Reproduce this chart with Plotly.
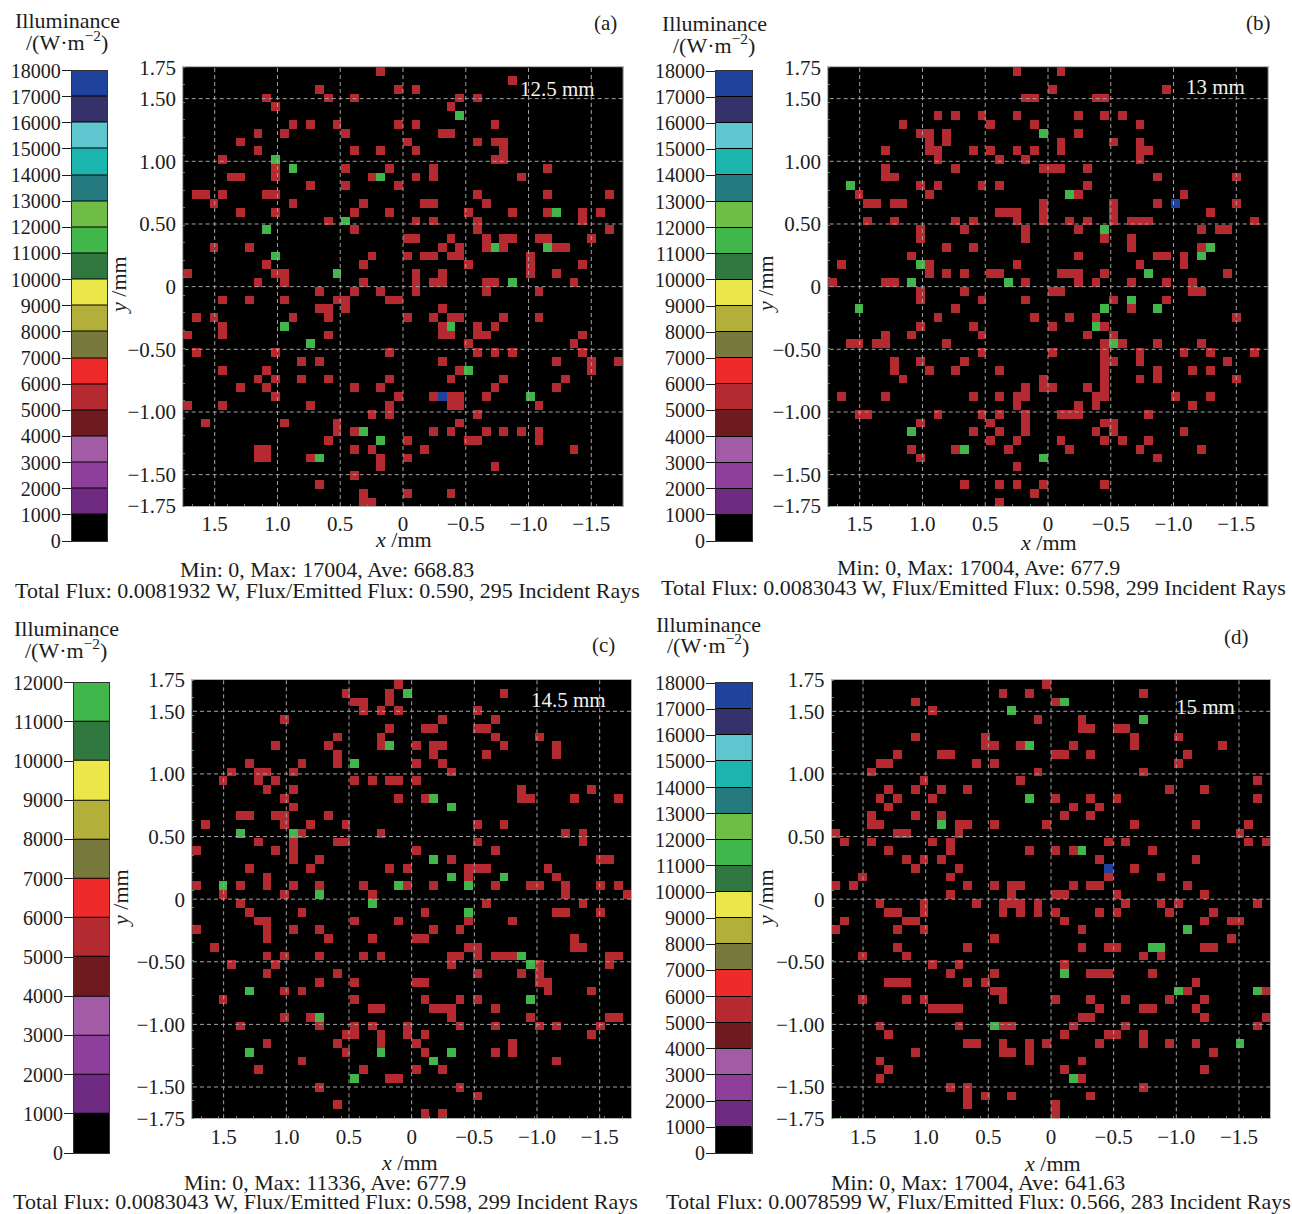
import plotly.graph_objects as go

W, H = 1292, 1214
FONT = "Liberation Serif"
TEXT = "#1c1c1c"

RED_VALUE, GREEN_VALUE, BLUE_VALUE = 5668, 11336, 17004

BAND_COLORS = ["#000000", "#6f2b82", "#8d3f9b", "#a25ca6", "#6f1a1e", "#b42a30", "#ee2b2a", "#777a3c",
               "#b2b03a", "#ebe64a", "#30783f", "#40b64b", "#70bd46", "#257a80", "#1cb5ae", "#5fc5cf",
               "#34316b", "#1f439d"]

A_RED = [[22],[37],[15,24,26],[9,16,19,31,33],[10,30],[],[12,14,17,24,26,35],[8,11,18,29,30],
 [6,25,33,35,36],[8,19,22,26,36],[4,35,36],[10,18,23,28,41],[5,6,10,21,26,28,38],[14,18,24],
 [1,2,4,9,10,33,41,48],[3,12,20,27,28,34],[6,10,19,23,32,37,41,45,47],[16,26,28,33,45],[19,33,48],
 [25,26,30,34,36,37,40,41,46],[3,7,29,31,34,36,42,43],[21,25,27,28,30,31,39],[9,20,32,39,45],
 [0,10,11,26,29,39,42],[8,11,20,26,28,29,34,35,44],[15,19,22,26,34,40],[4,7,11,17,18,23,24],
 [15,16,18,29],[1,3,12,16,25,28,30,31,36,40],[4,29,33,35],[0,4,16,29,30,33,34,45],[32,44],
 [1,10,23,33,35,37,45],[13,15,29,42,46,49],[4,9,31,46],[8,10,13,16,23,30,36,43],[6,9,19,22,35,42],
 [10,24,28,30,31,34],[0,4,14,23,30,31,40],[21,23,33],[2,11,17,31],[17,19,28,30,34,36,38,40],
 [16,25,32,33,40],[8,9,19,21,27,44],[8,9,14,22,25],[22,35],[19],[15],[20,25,30],[20,21]]
A_GREEN = [(5,31),(10,10),(11,12),(12,22),(16,42),(17,18),(18,9),(20,35),(20,41),(21,10),(23,17),(24,37),
           (29,11),(29,30),(31,14),(34,32),(37,39),(41,20),(42,22),(44,15)]
A_BLUE = [(37,29)]

B_RED = [[21,26],[],[25,38],[22,23,30,31],[],[12,14,17,21,28,31,33],[8,18,23,35],[10,11,13,28],
 [11,13,26,32,35],[6,11,12,16,18,21,23,26,35,36],[12,19,22,35],[6,14,24,25,26,29],[6,7,37,46],
 [10,12,17,19,29],[3,11,28,40],[4,5,7,8,24,32,37,46],[19,20,21,24,32,43],
 [4,7,14,16,21,24,27,29,32,34,35,36,48],[10,15,22,28,42,44,45],[10,22,31,34],[13,16,34,42],
 [9,28,37,38,40],[1,11,21,35,40],[11,13,15,18,19,26,27,28,31,45],[0,6,7,22,28,30,34,38,41],
 [10,15,25,26,41,42],[10,17,22,32,38],[14,34],[12,23,27,30,46],[10,16,25,31],[6,9,17,29,32],
 [2,3,5,6,13,31,33,37,42],[17,25,31,35,40,43,48],[7,10,15,31,32,35,45],[7,11,14,19,31,37,41,43],
 [8,24,31,35,37,46],[22,24,25,29,31],[1,6,16,19,21,22,30,31,39,43],[21,28,30,41],
 [3,4,12,17,19,22,26,27,28,36],[10,18,22,31,32],[16,19,22,30,32,40],[18,21,26,31,33,36],
 [9,14,20,27,35,42],[10,37],[21],[],[15,19,21,24,31],[23],[19]]
B_GREEN = [(7,24),(13,2),(14,27),(18,31),(20,43),(21,42),(22,10),(23,36),(24,9),(24,20),(26,34),(27,3),
           (27,31),(27,37),(29,30),(31,32),(41,9),(43,15),(44,24)]
B_BLUE = [(15,39)]

C_RED = [[23],[17,22,35],[18,19,22],[19,21,23,32],[10,28,34],[22,26,27,32,33],[16,21,34,39],
 [9,15,21,25,27,28,35,41],[16,27,33,41],[6,12,16,25,28],[4,7,8,11,29],[3,7,9,18,20,22,23,25],
 [8,11,37,45],[10,23,26,37,38,43,48],[11],[5,6,9,10,15],[1,10,13,17,32,35],[12,21,42,44],
 [7,11,16,17,32,44],[0,9,11,25,34],[11,14,29,46,47],[6,13,22,24,31,32,33,40],[8,31,41],
 [0,5,8,11,14,19,24,27,34,38,39,42,46,48],[3,10,20,42,49],[5,33,44],[6,12,26,41,42,46],
 [7,8,18,23,31,36],[0,8,11,14,27,30],[8,15,20,25,26,43],[2,31,32,43,44],
 [8,10,14,19,21,29,30,32,34,35,36,47,48],[4,9,29,39,47],[8,16,32,37,39],[14,18,25,26,39,40],
 [10,12,40,45],[3,18,26,30,32],[20,21,27,28,29,34],[10,13,29,38,47,48],
 [5,14,18,20,24,30,34,39,41,46],[17,18,21,24,26,45],[8,16,21,25,36],[17,26,34,36],[12,41],
 [7,19,25,28],[22,23],[14,30],[32],[16],[26,28]]
C_GREEN = [(1,24),(7,22),(9,18),(13,27),(14,29),(17,5),(17,11),(20,27),(22,29),(22,35),(23,3),(23,23),
           (23,31),(24,14),(25,20),(26,31),(31,37),(32,38),(35,6),(36,38),(38,14),(42,6),(42,21),(42,29),
           (43,27),(45,18)]
C_BLUE = []

D_RED = [[24],[19,22,35],[9,25],[11],[23,28],[28,29,32,33],[9,17,34,39],[17,18,21,27,34,44],
 [7,12,13,25,26,29,40],[5,6,16,18,39],[4,23,35],[10,21,48],[6,9,12,15,38,42],[5,7,11,25,29,32,48],
 [6,27,30],[4,9,12,26,29],[4,5,14,15,18,24,34,41,47],[0,7,8,14,46],[1,4,11,13,31,33,47,49],
 [6,13,22,25,27,36],[8,10,12,30,41],[9,14,34],[3,13,31,37],[0,2,15,18,20,21,27,29,30,40],
 [13,20,25,26,32,42],[5,10,16,19,20,21,23,33,37,39,48],[6,7,10,19,21,23,25,30,32,38,43],
 [1,8,9,26,42,45,46],[0,7,10,28],[18,45],[7,15,28,31,32,42,43],[3,8,35,37],[11,14,26],
 [13,18,29,30,31,36],[6,7,8,15,17,41],[18,19,40,49],[3,8,10,19,25,29,33,38,42],
 [11,12,13,14,30,35,36,41],[28,29,42,49],[5,14,19,20,27,33,48],[6,26,31,32,35],
 [15,16,19,22,24,30,35,38,41],[9,19,20,22,43],[5,22,28],[6,26,42],[5,28],[13,15,35],[15,17,20,29],
 [15,25],[25]]
D_GREEN = [(2,26),(3,20),(4,35),(7,22),(13,22),(16,12),(19,28),(28,40),(30,36),(30,37),(33,26),(35,39),
           (35,48),(39,18),(41,46),(45,27)]
D_BLUE = [(21,31)]

X_TICK_VALUES = [1.5, 1.0, 0.5, 0, -0.5, -1.0, -1.5]
X_TICK_LABELS = ["1.5", "1.0", "0.5", "0", "−0.5", "−1.0", "−1.5"]
Y_TICK_VALUES = [1.75, 1.5, 1.0, 0.5, 0, -0.5, -1.0, -1.5, -1.75]
Y_TICK_LABELS = ["1.75", "1.50", "1.00", "0.50", "0", "−0.50", "−1.00", "−1.50", "−1.75"]
GRID_VALUES = [1.5, 1.0, 0.5, 0, -0.5, -1.0, -1.5]

N, EXTENT = 50, 1.75
STEP = 2 * EXTENT / N
CENTERS = [-EXTENT + STEP * (i + 0.5) for i in range(N)]

PANELS = [
    dict(red=A_RED, green=A_GREEN, blue=A_BLUE, maxband=18,
         plot=(183.3, 622.7, 67.3, 506), bar=(71.7, 107.3, 70.5, 541),
         label="(a)", label_at=(605, 23), dist="12.5 mm", dist_at=(557, 89),
         title_at=(67, 20, 41), ylab=(118, 285), xlab=(403, 540),
         l1="Min: 0, Max: 17004, Ave: 668.83", l1_at=(327, 569),
         l2="Total Flux: 0.0081932 W, Flux/Emitted Flux: 0.590, 295 Incident Rays", l2_at=(327, 590)),
    dict(red=B_RED, green=B_GREEN, blue=B_BLUE, maxband=18,
         plot=(828.3, 1267.7, 67.3, 506), bar=(716, 752, 71, 541),
         label="(b)", label_at=(1258, 23), dist="13 mm", dist_at=(1215, 87),
         title_at=(714, 23, 44), ylab=(765, 284), xlab=(1048, 542),
         l1="Min: 0, Max: 17004, Ave: 677.9", l1_at=(978, 567),
         l2="Total Flux: 0.0083043 W, Flux/Emitted Flux: 0.598, 299 Incident Rays", l2_at=(973, 588)),
    dict(red=C_RED, green=C_GREEN, blue=C_BLUE, maxband=12,
         plot=(192.3, 631, 680, 1118.3), bar=(74, 109.3, 682.7, 1153),
         label="(c)", label_at=(603, 645), dist="14.5 mm", dist_at=(568, 700),
         title_at=(66, 628, 649), ylab=(120, 898), xlab=(409, 1162),
         l1="Min: 0, Max: 11336, Ave: 677.9", l1_at=(325, 1182),
         l2="Total Flux: 0.0083043 W, Flux/Emitted Flux: 0.598, 299 Incident Rays", l2_at=(325, 1201.5)),
    dict(red=D_RED, green=D_GREEN, blue=D_BLUE, maxband=18,
         plot=(831.7, 1270.3, 680, 1118.3), bar=(716, 751.7, 683, 1153.3),
         label="(d)", label_at=(1236, 637), dist="15 mm", dist_at=(1205, 707),
         title_at=(708, 624, 644), ylab=(765, 898), xlab=(1052, 1163),
         l1="Min: 0, Max: 17004, Ave: 641.63", l1_at=(978, 1182),
         l2="Total Flux: 0.0078599 W, Flux/Emitted Flux: 0.566, 283 Incident Rays", l2_at=(978, 1201.5)),
]

n_bands = len(BAND_COLORS)
colorscale = []
for i, c in enumerate(BAND_COLORS):
    colorscale += [[i / n_bands, c], [(i + 1) / n_bands, c]]
ZMAX = n_bands * 1000


def px(x):
    return x / W


def py(y):
    return 1 - y / H


fig = go.Figure()
layout = {}
annotations = []
shapes = []


def note(x, y, text, size=22, color=TEXT, angle=0):
    annotations.append(dict(x=px(x), y=py(y), xref="paper", yref="paper", text=text, showarrow=False,
                            xanchor="center", yanchor="middle", textangle=angle,
                            font=dict(family=FONT, size=size, color=color)))


for k, p in enumerate(PANELS):
    z = [[0] * N for _ in range(N)]
    for r, cols in enumerate(p["red"]):
        for c in cols:
            z[N - 1 - r][N - 1 - c] = RED_VALUE
    for r, c in p["green"]:
        z[N - 1 - r][N - 1 - c] = GREEN_VALUE
    for r, c in p["blue"]:
        z[N - 1 - r][N - 1 - c] = BLUE_VALUE

    a1, a2 = 2 * k + 1, 2 * k + 2
    fig.add_trace(go.Heatmap(z=z, x=CENTERS, y=CENTERS, colorscale=colorscale, zmin=0, zmax=ZMAX,
                             showscale=False, xaxis=f"x{a1}", yaxis=f"y{a1}", hoverinfo="skip"))
    x0, x1, y0, y1 = p["plot"]
    frame = dict(showline=True, linecolor="#b4b4b4", linewidth=1, mirror=True, showgrid=False, zeroline=False,
                 automargin=False, tickfont=dict(family=FONT, size=21, color=TEXT), ticklen=0, ticks="outside",
                 tickcolor="rgba(0,0,0,0)", tickmode="array",
                 minor=dict(ticks="inside", ticklen=2, tickwidth=1, tickcolor="#3a9a4a",
                            tickmode="linear", dtick=0.14, showgrid=False))
    xa = dict(frame, domain=[px(x0), px(x1)], anchor=f"y{a1}", range=[EXTENT, -EXTENT],
              tickvals=X_TICK_VALUES, ticktext=X_TICK_LABELS, ticklabelstandoff=-1)
    xa["minor"] = dict(frame["minor"], tick0=-1.68)
    ya = dict(frame, domain=[py(y1), py(y0)], anchor=f"x{a1}", range=[-EXTENT, EXTENT],
              tickvals=Y_TICK_VALUES, ticktext=Y_TICK_LABELS, ticklabelstandoff=2)
    ya["minor"] = dict(frame["minor"], tick0=-1.75)
    layout[f"xaxis{a1}"] = xa
    layout[f"yaxis{a1}"] = ya

    grid_line = dict(color="#a3a3a3", width=1, dash="4px,3px")
    for v in GRID_VALUES:
        shapes.append(dict(type="line", xref=f"x{a1}", yref=f"y{a1}", x0=v, x1=v, y0=-EXTENT, y1=EXTENT,
                           line=grid_line, layer="above"))
        shapes.append(dict(type="line", xref=f"x{a1}", yref=f"y{a1}", x0=-EXTENT, x1=EXTENT, y0=v, y1=v,
                           line=grid_line, layer="above"))

    bands = p["maxband"]
    mids = [1000 * i + 500 for i in range(bands)]
    fig.add_trace(go.Heatmap(z=[[m] for m in mids], y=mids, x=[0], colorscale=colorscale, zmin=0, zmax=ZMAX,
                             showscale=False, ygap=1, xaxis=f"x{a2}", yaxis=f"y{a2}", hoverinfo="skip"))
    bx0, bx1, by0, by1 = p["bar"]
    layout[f"xaxis{a2}"] = dict(domain=[px(bx0), px(bx1)], anchor=f"y{a2}", range=[-0.5, 0.5], showticklabels=False,
                                ticks="", showgrid=False, zeroline=False, showline=True, linecolor="#333333",
                                linewidth=1, mirror=True, automargin=False)
    layout[f"yaxis{a2}"] = dict(domain=[py(by1), py(by0)], anchor=f"x{a2}", range=[0, bands * 1000], tickmode="linear",
                                tick0=0, dtick=1000, tickformat="d", ticks="outside", ticklen=9, tickwidth=1,
                                tickcolor="#1c1c1c", showgrid=False, zeroline=False, showline=True,
                                linecolor="#333333", linewidth=1, mirror=True, automargin=False,
                                ticklabelstandoff=-3, tickfont=dict(family=FONT, size=20, color=TEXT))

    note(*p["label_at"], p["label"], size=21)
    note(*p["dist_at"], p["dist"], size=21, color="#f2f2f2")
    tx, ty1, ty2 = p["title_at"]
    note(tx, ty1, "Illuminance")
    note(tx, ty2, "/(W·m<sup>−2</sup>)")
    note(*p["ylab"], "<i>y</i> /mm", angle=-90)
    note(*p["xlab"], "<i>x</i> /mm")
    note(*p["l1_at"], p["l1"])
    note(*p["l2_at"], p["l2"])

fig.update_layout(width=W, height=H, margin=dict(l=0, r=0, t=0, b=0, autoexpand=False), paper_bgcolor="#ffffff",
                  plot_bgcolor="#000000", showlegend=False, annotations=annotations, shapes=shapes, **layout)
fig.write_html("out.html", config=dict(displayModeBar=False), post_script="document.body.style.margin='0';")
